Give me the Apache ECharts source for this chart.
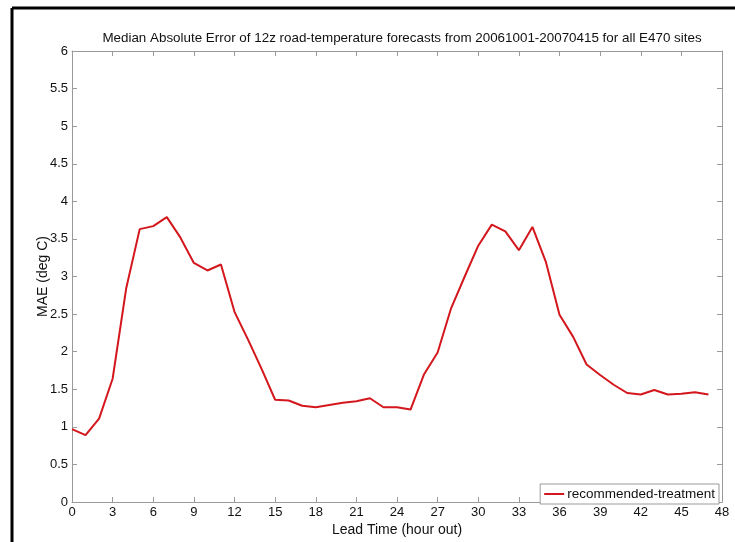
<!DOCTYPE html>
<html>
<head>
<meta charset="utf-8">
<script src="https://cdn.jsdelivr.net/npm/echarts@6/dist/echarts.min.js"></script>
<style>
html,body{margin:0;padding:0;background:#fff;}
#chart{width:735px;height:542px;}
</style>
</head>
<body>
<div id="chart"></div>
<script>
const titleText = 'Median Absolute Error of 12z road-temperature forecasts from 20061001-20070415 for all E470 sites';
const seriesName = 'recommended-treatment';
const xAxisName = 'Lead Time (hour out)';
const yAxisName = 'MAE (deg C)';
const leadHours = [0,1,2,3,4,5,6,7,8,9,10,11,12,13,14,15,16,17,18,19,20,21,22,23,24,25,26,27,28,29,30,31,32,33,34,35,36,37,38,39,40,41,42,43,44,45,46,47];
const maeValues = [0.97,0.89,1.11,1.64,2.84,3.63,3.67,3.79,3.52,3.18,3.08,3.16,2.53,2.16,1.77,1.36,1.35,1.28,1.26,1.29,1.32,1.34,1.38,1.26,1.26,1.23,1.70,1.99,2.58,3.00,3.41,3.69,3.60,3.35,3.66,3.19,2.49,2.20,1.83,1.69,1.56,1.45,1.43,1.49,1.43,1.44,1.46,1.43];

const FONT = '"Liberation Sans", Arial, sans-serif';
const axisGray = '#9a9a9a';

const chart = echarts.init(document.getElementById('chart'));
const data = leadHours.map((h, i) => [h, maeValues[i]]);

const xCommon = {
  type: 'value', min: 0, max: 48, interval: 3,
  axisLine: { show: true, onZero: false, lineStyle: { color: axisGray, width: 1 } },
  axisTick: { show: true, inside: true, length: 5, lineStyle: { color: axisGray } },
  splitLine: { show: false }
};
const yCommon = {
  type: 'value', min: 0, max: 6, interval: 0.5,
  axisLine: { show: true, onZero: false, lineStyle: { color: axisGray, width: 1 } },
  axisTick: { show: true, inside: true, length: 5, lineStyle: { color: axisGray } },
  splitLine: { show: false }
};

chart.setOption({
  backgroundColor: '#fff',
  animation: false,
  title: {
    text: titleText, left: 397, top: 27, textAlign: 'center',
    textStyle: { fontFamily: FONT, fontSize: 13.4, fontWeight: 'normal', color: '#111' }
  },
  grid: { left: 72, right: 13, top: 51, bottom: 34 },
  legend: {
    data: [seriesName], right: 16, bottom: 38, orient: 'horizontal',
    itemWidth: 20, itemHeight: 2, itemGap: 4,
    padding: [3, 4, 3, 4],
    backgroundColor: '#fff', borderColor: axisGray, borderWidth: 1, borderRadius: 0,
    textStyle: { fontFamily: FONT, fontSize: 13.5, color: '#111', padding: [0, 0, 0, -2] },
    icon: 'rect'
  },
  xAxis: [
    Object.assign({}, xCommon, {
      position: 'bottom', name: xAxisName, nameLocation: 'middle', nameGap: 21,
      nameMoveOverlap: false,
      nameTextStyle: { fontFamily: FONT, fontSize: 14, color: '#111' },
      axisLabel: { show: true, margin: 4, fontFamily: FONT, fontSize: 13, color: '#111' }
    }),
    Object.assign({}, xCommon, { position: 'top', axisLabel: { show: false } })
  ],
  yAxis: [
    Object.assign({}, yCommon, {
      position: 'left', name: yAxisName, nameLocation: 'middle', nameGap: 29,
      nameMoveOverlap: false,
      nameTextStyle: { fontFamily: FONT, fontSize: 14, color: '#111', verticalAlign: 'middle' },
      axisLabel: { show: true, margin: 4, fontFamily: FONT, fontSize: 13, color: '#111' }
    }),
    Object.assign({}, yCommon, { position: 'right', axisLabel: { show: false } })
  ],
  series: [{
    name: seriesName, type: 'line', data: data,
    xAxisIndex: 0, yAxisIndex: 0,
    showSymbol: false, symbol: 'none',
    lineStyle: { color: '#d3171d', width: 2 },
    itemStyle: { color: '#d3171d' }
  }],
  graphic: [
    { type: 'line', shape: { x1: 12, y1: 8, x2: 735, y2: 8 }, style: { stroke: '#000', lineWidth: 3 } },
    { type: 'line', shape: { x1: 12, y1: 8, x2: 12, y2: 542 }, style: { stroke: '#000', lineWidth: 3 } }
  ]
});
</script>
</body>
</html>
